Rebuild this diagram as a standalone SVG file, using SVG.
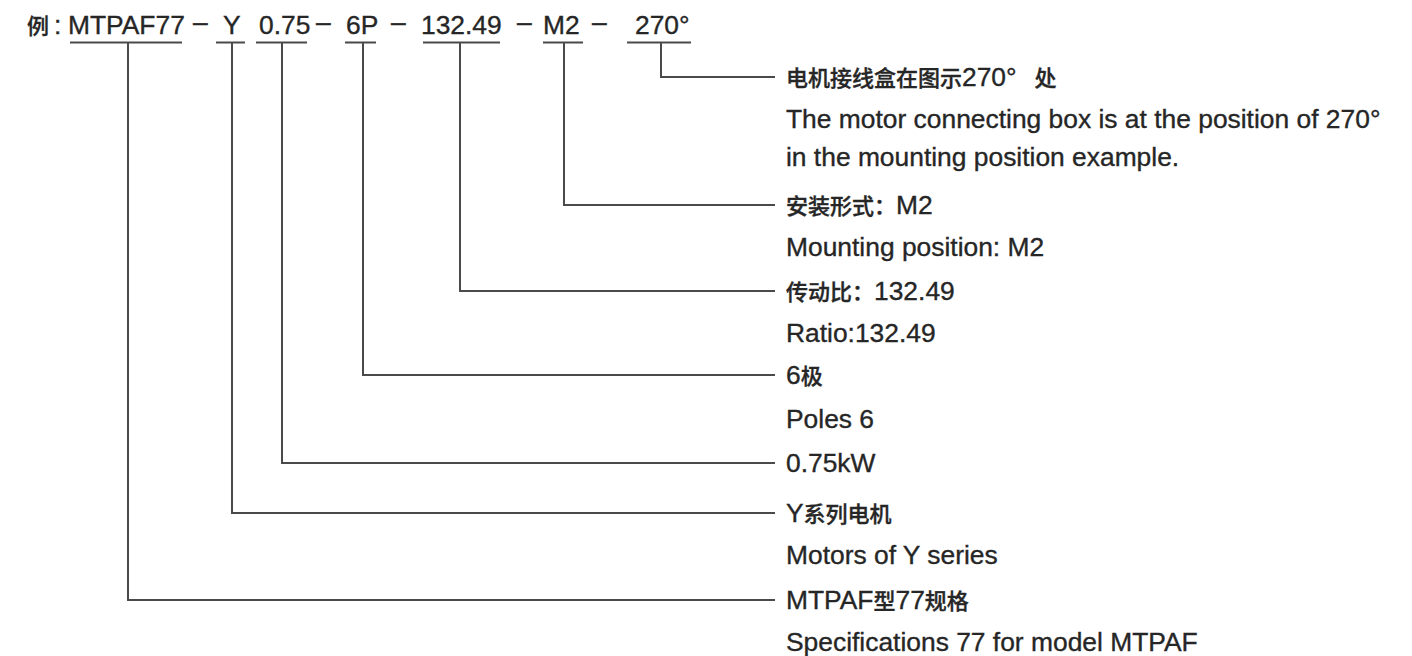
<svg xmlns="http://www.w3.org/2000/svg" width="1412" height="656" viewBox="0 0 1412 656">
<style>
text{font-family:"Liberation Sans","Noto Sans CJK SC",sans-serif;font-size:26.4px;fill:#262626;stroke:#262626;stroke-width:0.35px}
.cjk{font-size:22px;font-weight:500}
.ul,.conn{stroke:#4a4a4a;stroke-width:2;fill:none}
</style>
<rect width="1412" height="656" fill="#ffffff"/>
<g id="code">
<text x="27" y="34"><tspan class="cjk">例</tspan></text>
<text x="54" y="34">:</text>
<text id="t-model" x="68" y="34">MTPAF77</text>
<text x="193" y="31">–</text>
<text id="t-series" x="223" y="34">Y</text>
<text id="t-power" x="259" y="34">0.75</text>
<text x="316" y="31">–</text>
<text id="t-poles" x="346" y="34">6P</text>
<text x="391" y="31">–</text>
<text id="t-ratio" x="421" y="34">132.49</text>
<text x="517" y="31">–</text>
<text id="t-mount" x="543" y="34">M2</text>
<text x="592" y="31">–</text>
<text id="t-box" x="635" y="34">270°</text>
<path class="ul" d="M70 42.5H182M216 42.5H245M256 42.5H307M345 42.5H376M423 42.5H500M543 42.5H583M627 42.5H691"/>
</g>
<g id="connectors">
<polyline class="conn" points="661,43 661,77 775,77"/>
<polyline class="conn" points="564,43 564,205 775,205"/>
<polyline class="conn" points="460,43 460,291 775,291"/>
<polyline class="conn" points="363,43 363,375 775,375"/>
<polyline class="conn" points="282,43 282,463 775,463"/>
<polyline class="conn" points="232,43 232,513 775,513"/>
<polyline class="conn" points="128,43 128,600 775,600"/>
</g>
<g id="label-box">
<text x="786" y="86"><tspan class="cjk">电机接线盒在图示</tspan>270°<tspan class="cjk" dx="18">处</tspan></text>
<text x="786" y="128">The motor connecting box is at the position of 270°</text>
<text x="786" y="166">in the mounting position example.</text>
</g>
<g id="label-mount">
<text x="786" y="214"><tspan class="cjk">安装形式：</tspan>M2</text>
<text x="786" y="256">Mounting position: M2</text>
</g>
<g id="label-ratio">
<text x="786" y="300"><tspan class="cjk">传动比：</tspan>132.49</text>
<text x="786" y="342">Ratio:132.49</text>
</g>
<g id="label-poles">
<text x="786" y="384">6<tspan class="cjk">极</tspan></text>
<text x="786" y="428">Poles 6</text>
</g>
<g id="label-power">
<text x="786" y="472">0.75kW</text>
</g>
<g id="label-series">
<text x="786" y="522">Y<tspan class="cjk">系列电机</tspan></text>
<text x="786" y="564">Motors of Y series</text>
</g>
<g id="label-model">
<text x="786" y="609">MTPAF<tspan class="cjk">型</tspan>77<tspan class="cjk">规格</tspan></text>
<text x="786" y="651">Specifications 77 for model MTPAF</text>
</g>
</svg>
